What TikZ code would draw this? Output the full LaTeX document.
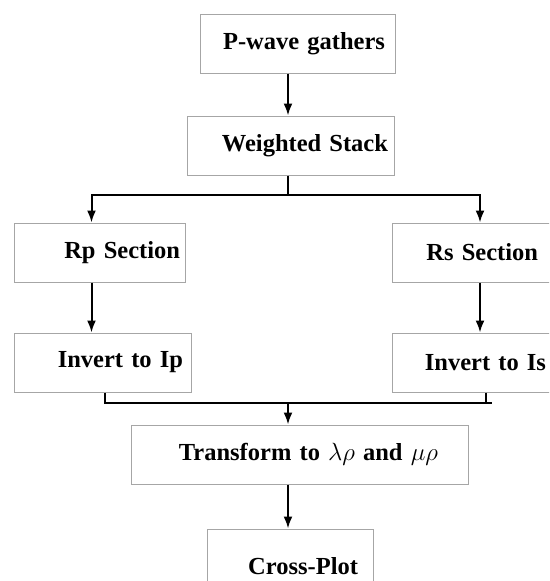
\documentclass[tikz,border=0pt]{standalone}
\usepackage{fontspec}
\setmainfont{Liberation Serif}
\usepackage{tikz}
\usetikzlibrary{positioning, arrows.meta}

\begin{document}
\begin{tikzpicture}[
        x=1pt, y=-1pt,
        every node/.style={font=\bfseries\fontsize{24.5}{29}\selectfont}, % Text style
        stage/.style={draw=gray!70, line width=1pt, rectangle, align=right, minimum height=59pt}, % Box style
        link/.style={line width=2pt}, % Plain connector
        arrow/.style={link, -{Latex[length=12pt, width=9pt]}} % Arrow style
    ]

    % Page frame
    \useasboundingbox (0,0) rectangle (549,581);
    \clip (0,0) rectangle (549,581);

    % Main column
    \node (pwave) [stage, text width=175pt, inner xsep=10pt] at (297.5,43.5) {P-wave gathers};
    \node (stack) [stage, text width=195pt, inner xsep=6pt, below=42pt of pwave, xshift=-7pt] {Weighted Stack};

    % Left branch
    \node (rp) [stage, text width=161pt, inner xsep=5pt] at (99.5,252.5) {Rp Section};
    \node (ip) [stage, text width=161pt, inner xsep=8pt, below=50pt of rp, xshift=3pt] {Invert to Ip};

    % Right branch
    \node (rs) [stage, text width=121pt, inner xsep=25pt, right=206pt of rp] {Rs Section};
    \node (is) [stage, text width=131pt, inner xsep=23pt, below=50pt of rs, xshift=3pt] {Invert to Is};

    % Joined column
    \node (transform) [stage, text width=277pt, inner xsep=30pt] at (299.5,454.5) {Transform to $\lambda\rho$ and $\mu\rho$};
    \node (cross) [stage, text width=136pt, inner xsep=15pt, minimum height=74pt, below=44pt of transform, xshift=-9.5pt] {Cross-Plot};

    % Split and merge points
    \coordinate (split) at (288,195);
    \coordinate (merge) at (288,403);
    \coordinate (mergeend) at (492,403);

    % Top connections
    \draw[arrow] (pwave.south -| split) -- (stack.north -| split);
    \draw[link] (stack.south -| split) -- (split);
    \draw[arrow] (split) -| ([xshift=-8pt]rp.north);
    \draw[arrow] (split) -| ([xshift=2.5pt]rs.north);

    % Branch connections
    \draw[arrow] ([xshift=-8pt]rp.south) -- ([xshift=-11pt]ip.north);
    \draw[arrow] ([xshift=2.5pt]rs.south) -- ([xshift=-0.5pt]is.north);

    % Merge connections
    \draw[link] ([xshift=2.5pt]ip.south) |- (mergeend);
    \draw[link] ([xshift=5.5pt]is.south) -- ([xshift=5.5pt]is.south |- mergeend);
    \draw[arrow] (merge) -- (transform.north -| merge);
    \draw[arrow] (transform.south -| merge) -- (cross.north -| merge);

\end{tikzpicture}
\end{document}
